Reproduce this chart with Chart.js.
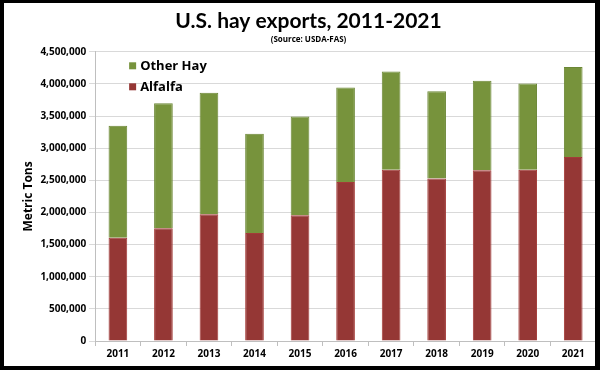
<!DOCTYPE html>
<html>
<head>
<meta charset="utf-8">
<title>U.S. hay exports</title>
<script src="https://cdn.jsdelivr.net/npm/chart.js@4"></script>
<style>
    html, body { margin: 0; padding: 0; background: #fff; }
    #wrap { position: relative; width: 600px; height: 370px; }
    #wrap canvas { position: absolute; left: 0; top: 0; }
    #frame {
        position: absolute; left: 0; top: 0; width: 600px; height: 370px;
        box-sizing: border-box; pointer-events: none;
        border-style: solid; border-color: #000;
        border-width: 3px 5px 4px 4px;
    }
</style>
</head>
<body>
<div id="wrap">
    <canvas id="hayChart" width="600" height="370"></canvas>
    <div id="frame"></div>
</div>
<script>
// ============================================================
// DATA (metric tons)
// ============================================================

const anos = ['2011', '2012', '2013', '2014', '2015', '2016', '2017', '2018', '2019', '2020', '2021'];
const alfafa = [1608000, 1755000, 1972000, 1682000, 1957000, 2476000, 2663000, 2527000, 2658000, 2663000, 2865000];
const outroFeno = [1740000, 1945000, 1890000, 1541000, 1536000, 1468000, 1530000, 1361000, 1390000, 1344000, 1397000];

const FONTE = "'Open Sans', 'DejaVu Sans', sans-serif";

// legend drawn inside the plot, top-left, like the Excel original
const legendaInterna = {
    id: 'legendaInterna',
    afterDatasetsDraw(chart) {
        const ctx = chart.ctx;
        const area = chart.chartArea;
        const ds = chart.data.datasets.slice().reverse();
        ctx.save();
        ctx.font = `bold 13px ${FONTE}`;
        ctx.textBaseline = 'middle';
        ds.forEach((d, i) => {
            const y = area.top + 14 + i * 21;
            const x = area.left + 34;
            ctx.fillStyle = d.backgroundColor;
            ctx.fillRect(x, y - 3.5, 7, 7);
            ctx.fillStyle = '#000';
            ctx.fillText(d.label, x + 11, y + 0.5);
        });
        ctx.restore();
    }
};

function init() {
    const ctx = document.getElementById('hayChart').getContext('2d');

    new Chart(ctx, {
        type: 'bar',
        data: {
            labels: anos,
            datasets: [
                {
                    label: 'Alfalfa',
                    data: alfafa,
                    backgroundColor: '#953735',
                    borderColor: '#a33b38',
                    borderWidth: 1
                },
                {
                    label: 'Other Hay',
                    data: outroFeno,
                    backgroundColor: '#77933c',
                    borderColor: '#6b8735',
                    borderWidth: 1
                }
            ]
        },
        options: {
            responsive: false,
            animation: false,
            devicePixelRatio: 1,
            layout: { padding: { left: 21, right: 4, top: 6, bottom: 8 } },
            datasets: {
                bar: { categoryPercentage: 1, barPercentage: 0.41 }
            },
            plugins: {
                legend: { display: false },
                tooltip: { enabled: false },
                title: {
                    display: true,
                    text: 'U.S. hay exports, 2011-2021',
                    color: '#000',
                    font: { family: "Lato, " + FONTE, size: 21, weight: 'bold' },
                    padding: { top: 3, bottom: 0 }
                },
                subtitle: {
                    display: true,
                    text: '(Source: USDA-FAS)',
                    color: '#000',
                    font: { family: FONTE, size: 8, weight: 'bold' },
                    padding: { top: 1, bottom: 7 }
                }
            },
            scales: {
                x: {
                    stacked: true,
                    grid: {
                        offset: true,
                        drawOnChartArea: false,
                        color: '#bfbfbf',
                        tickLength: 5
                    },
                    border: { color: '#bfbfbf' },
                    ticks: {
                        color: '#000',
                        font: { family: FONTE, size: 10, weight: 'bold' },
                        padding: 2
                    }
                },
                y: {
                    stacked: true,
                    min: 0,
                    max: 4500000,
                    grid: { color: '#d9d9d9', tickLength: 6 },
                    border: { color: '#bfbfbf' },
                    ticks: {
                        stepSize: 500000,
                        color: '#000',
                        font: { family: FONTE, size: 10, weight: 'bold' },
                        padding: 3,
                        callback: v => v.toLocaleString('en-US')
                    },
                    title: {
                        display: true,
                        text: 'Metric Tons',
                        color: '#000',
                        font: { family: FONTE, size: 12, weight: 'bold' },
                        padding: { top: 0, bottom: 2 }
                    }
                }
            }
        },
        plugins: [legendaInterna]
    });
}

document.addEventListener('DOMContentLoaded', init);
</script>
</body>
</html>
